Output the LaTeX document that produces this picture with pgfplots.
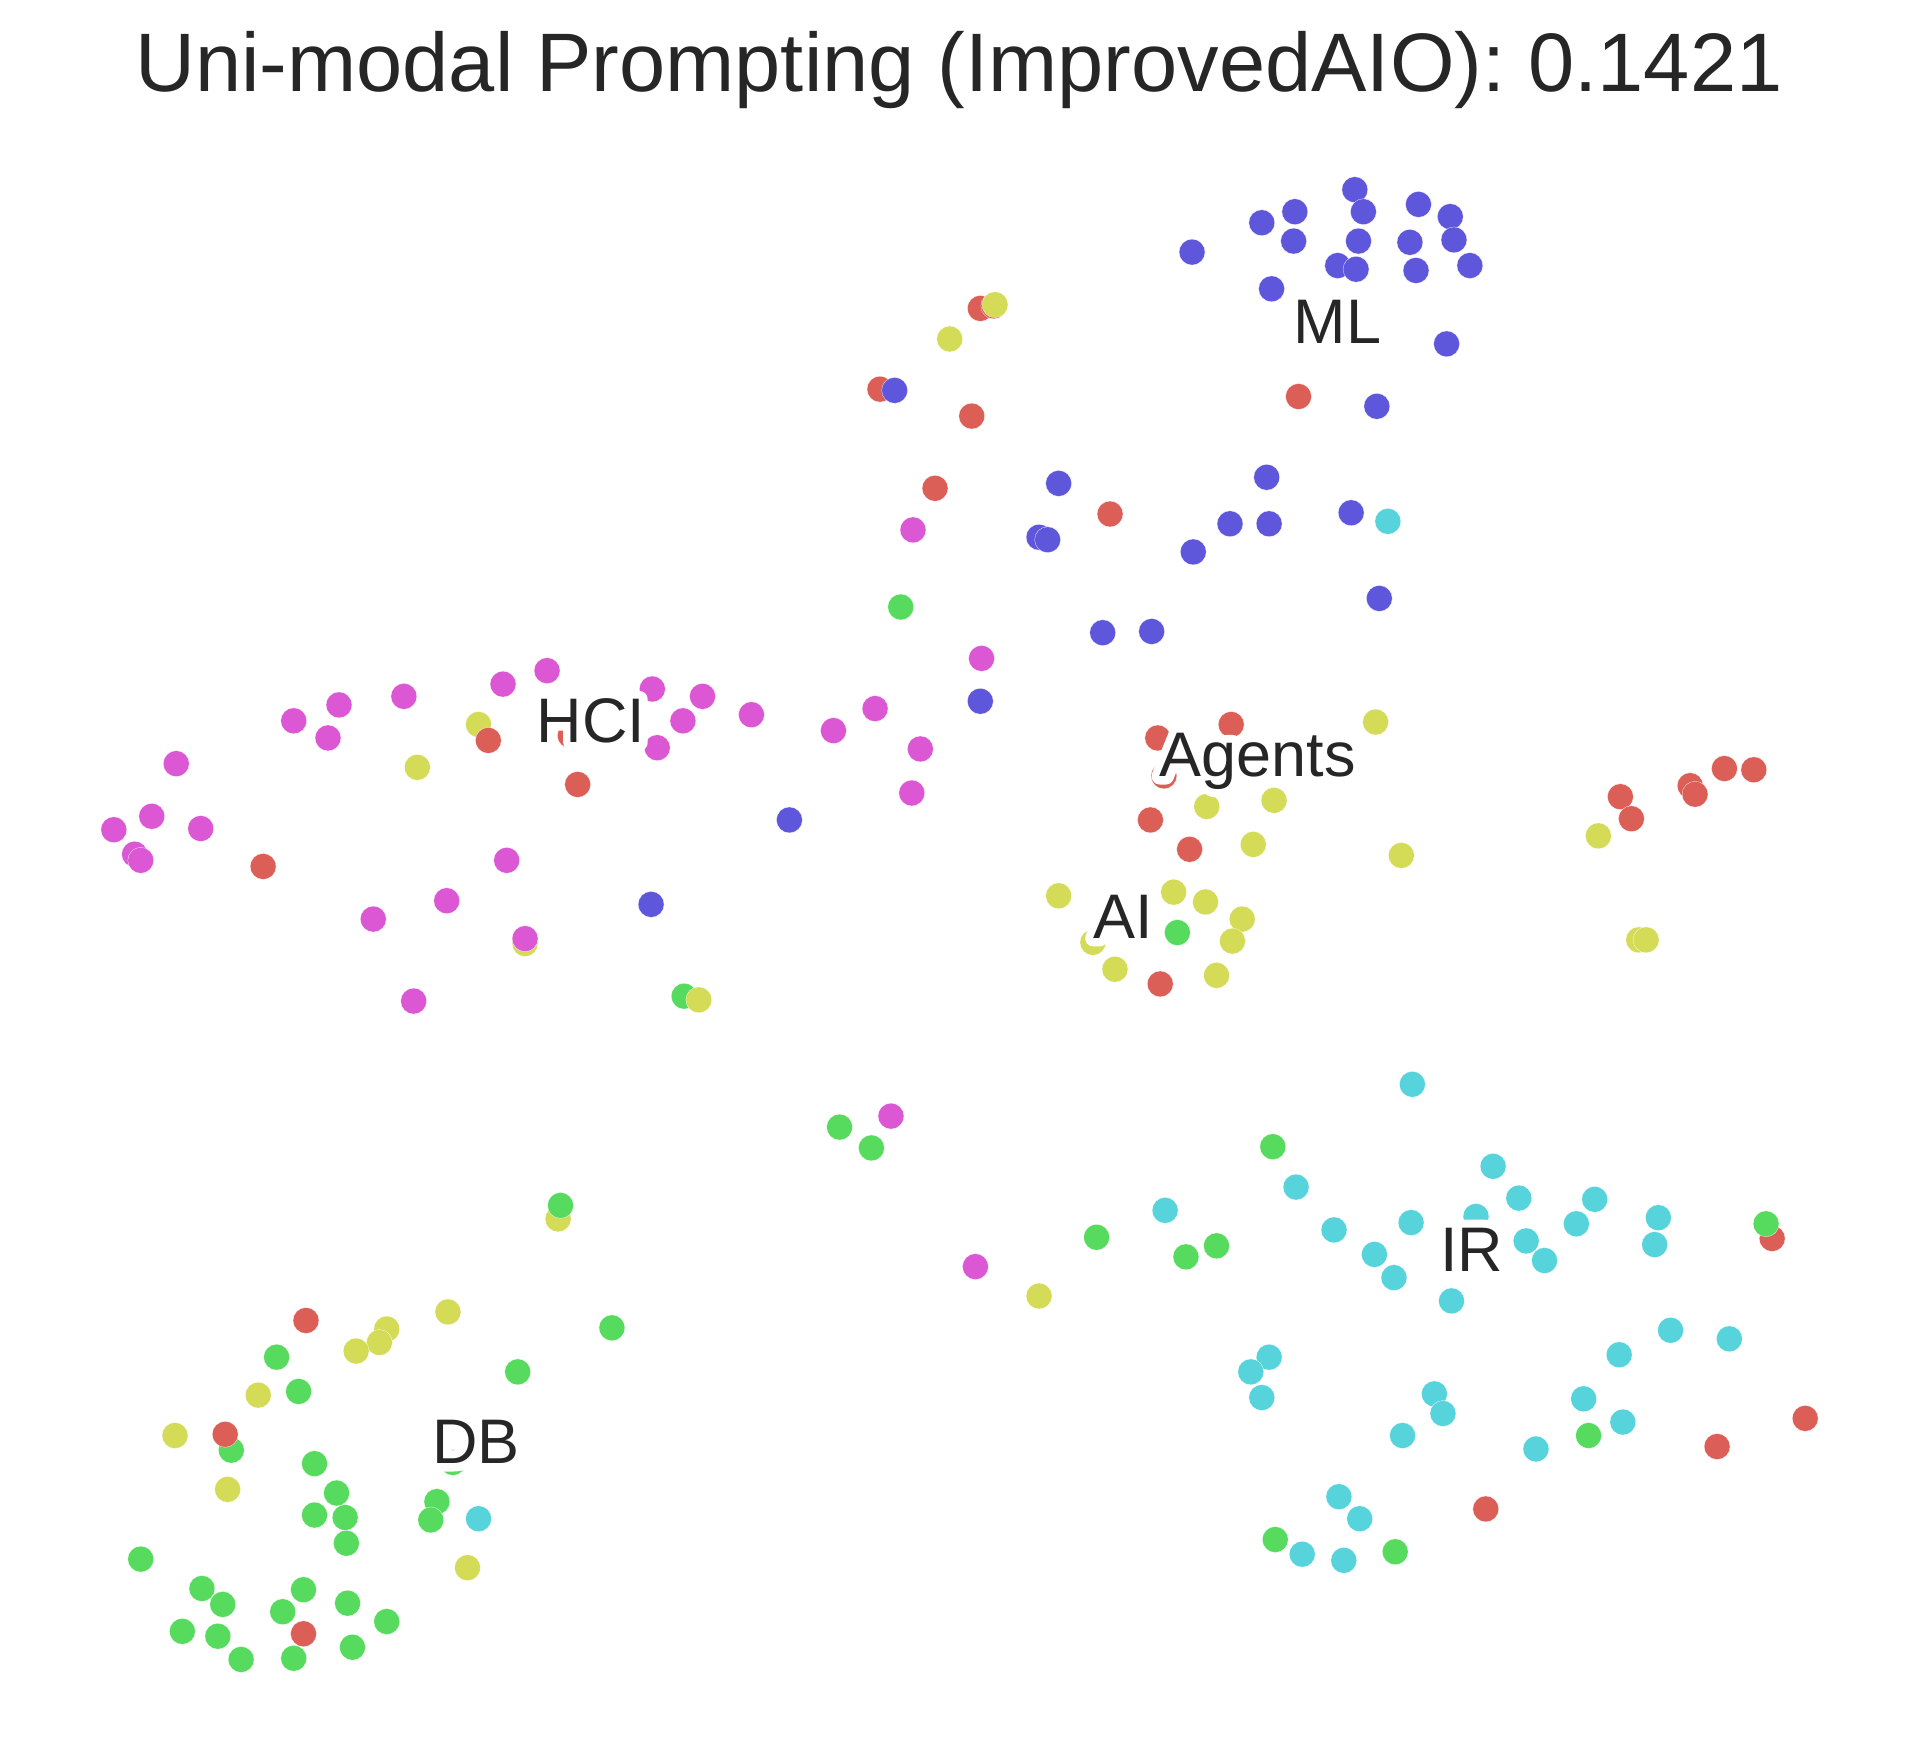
\documentclass[border=0pt]{standalone}
\usepackage{pgfplots}
\pgfplotsset{compat=1.18}
\usepackage{fontspec}
\setmainfont{Liberation Sans}
% stroked copy for the white outline round the cluster names
\newfontfamily\halofont[FakeBold=26]{Liberation Sans}

\definecolor{cred}{RGB}{219,95,87}
\definecolor{cyellow}{RGB}{211,219,87}
\definecolor{cgreen}{RGB}{87,219,95}
\definecolor{ccyan}{RGB}{87,211,219}
\definecolor{cblue}{RGB}{95,87,219}
\definecolor{cmagenta}{RGB}{219,87,211}
\definecolor{ctext}{RGB}{38,38,38}

\newcommand{\halo}[1]{\pgfsetroundjoin\rlap{\textcolor{white}{\halofont #1}}#1}

\pgfplotsset{
  pts/.style={only marks, mark=*, mark size=5.3pt,
    mark options={draw=white, line width=.1pt, fill=#1}},
  frame/.style={hide axis, scale only axis, clip=false,
    width=783.5pt, height=720pt,
    xmin=0, xmax=1568, ymin=0, ymax=1441, y dir=reverse},
}

\begin{document}
\begin{tikzpicture}
\path[use as bounding box] (0,0) rectangle (783.5pt,720pt);
\begin{axis}[frame]
\addplot [pts=cred] table {
801 252
812 250
719 318
794 340
1061 324
764 399
907 420
1006 592
946 603
951 634
940 670
972 694
1324 651
1333 669
1381 642
1385 649
1409 628
1433 629
948 804
466 601
472 641
215 708
1448 1012
250 1079
1475 1159
1403 1182
1214 1233
248 1335
};
\addplot [pts=cgreen] table {
736 496
962 762
559 814
686 921
712 938
1040 937
896 1011
969 1027
994 1018
1443 1000
500 1085
423 1121
226 1109
244 1137
189 1185
257 1196
370 1195
275 1220
357 1227
257 1238
282 1240
352 1242
283 1261
115 1274
1042 1258
1140 1268
1298 1173
165 1298
182 1311
248 1299
284 1310
231 1317
316 1325
149 1333
178 1337
197 1356
240 1355
288 1346
};
\addplot [pts=cyellow] table {
813 249
776 277
391 592
341 627
1124 590
986 659
1041 654
1024 690
1145 699
1306 683
865 732
959 729
985 737
1015 751
1007 769
893 770
911 792
994 797
1339 768
1345 768
429 771
571 817
456 996
849 1059
366 1072
316 1086
310 1097
291 1104
211 1140
143 1173
186 1217
382 1281
};
\addplot [pts=ccyan] table {
1134 426
1154 886
1220 953
1059 970
1241 979
1303 980
952 989
1090 1005
1153 999
1206 994
1288 1000
1355 995
1247 1014
1352 1017
1123 1025
1262 1030
1139 1044
1186 1063
1365 1087
1413 1094
1323 1107
1037 1109
1022 1121
1031 1142
1172 1139
1179 1155
1294 1143
1326 1162
1146 1173
1255 1184
1094 1223
1111 1241
1064 1270
1098 1275
391 1241
};
\addplot [pts=cblue] table {
1107 155
1031 182
1058 173
1114 173
1159 167
1185 177
1057 197
1110 197
1152 198
1188 196
974 206
1093 217
1108 220
1157 221
1201 217
1039 236
1182 281
1125 332
1035 390
865 395
1104 419
1037 428
1005 428
849 439
856 441
975 451
1127 489
901 517
941 516
801 573
645 670
532 739
731 319
};
\addplot [pts=cmagenta] table {
447 548
411 559
533 563
574 569
330 569
277 576
240 589
268 603
558 589
614 584
715 579
681 597
752 612
537 611
144 624
745 648
124 667
164 677
93 678
110 698
115 703
414 703
365 736
305 751
429 767
338 818
746 433
802 538
728 912
797 1035
};
% points that sit above their neighbours
\addplot [pts=cred] table {
399 605
184 1172
};
\addplot [pts=cgreen] table {
458 985
};
\end{axis}
% second axis so the names lie above the marks
\begin{axis}[frame]
\node[text=ctext, font=\fontsize{33.9}{40}\selectfont, anchor=center] at (axis cs:783.5,57) {Uni-modal Prompting (ImprovedAIO): 0.1421};
\node[text=ctext, font=\fontsize{25.7}{30}\selectfont, anchor=center] at (axis cs:1093,263) {\halo{ML}};
\node[text=ctext, font=\fontsize{25.7}{30}\selectfont, anchor=center] at (axis cs:483,589) {\halo{HCI}};
\node[text=ctext, font=\fontsize{25.7}{30}\selectfont, anchor=center] at (axis cs:1027.5,622) {\halo{Agents}};
\node[text=ctext, font=\fontsize{25.7}{30}\selectfont, anchor=center] at (axis cs:917.5,749) {\halo{AI}};
\node[text=ctext, font=\fontsize{25.7}{30}\selectfont, anchor=center] at (axis cs:1202.5,1021) {\halo{IR}};
\node[text=ctext, font=\fontsize{25.7}{30}\selectfont, anchor=center] at (axis cs:389,1178) {\halo{DB}};
\end{axis}
\end{tikzpicture}
\end{document}
